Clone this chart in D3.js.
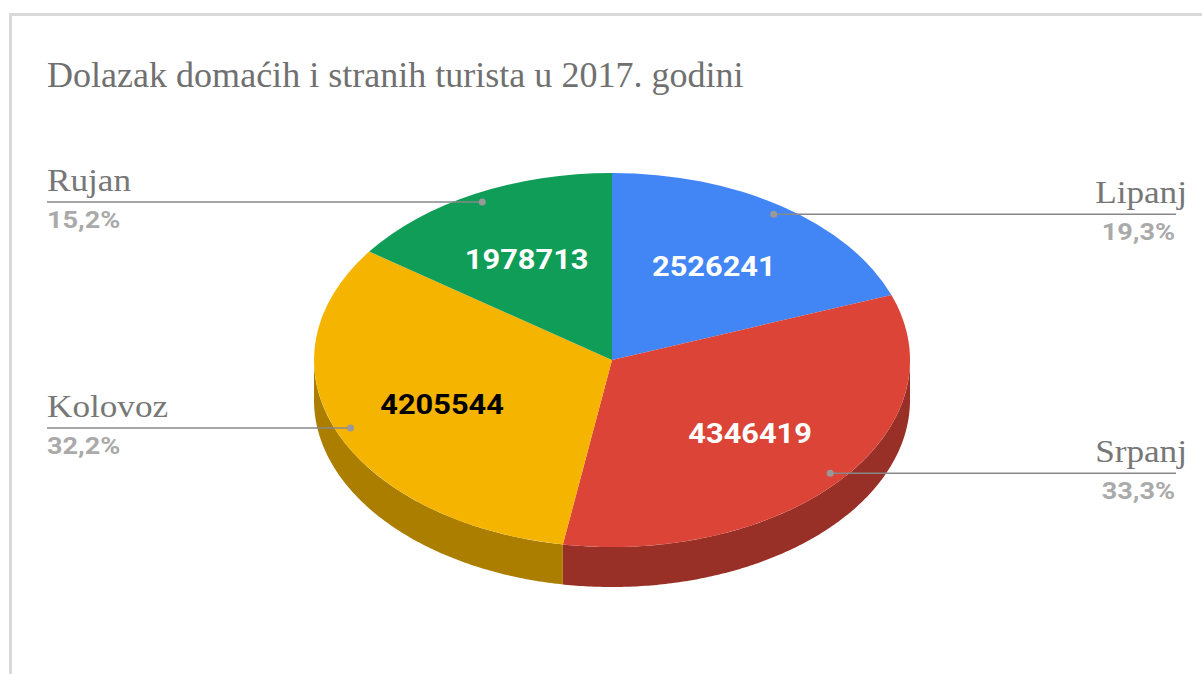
<!DOCTYPE html>
<html>
<head>
<meta charset="utf-8">
<script src="https://cdn.jsdelivr.net/npm/d3@7"></script>
<style>
  body { margin: 0; background: #fff; }
</style>
</head>
<body>
<div id="chart"></div>
<script>
// Chart data
var months = ["Lipanj", "Srpanj", "Kolovoz", "Rujan"];
var arrivals = [2526241, 4346419, 4205544, 1978713];
var sliceColors = ["#4285f4", "#db4437", "#f4b400", "#0f9d58"];
var valueTextColors = ["#ffffff", "#ffffff", "#000000", "#ffffff"];
var chartTitle = "Dolazak domaćih i stranih turista u 2017. godini";

// Chart parameters
var properties = {
    width: 1202,
    height: 674,
    cx: 612,
    cy: 360,
    rx: 298,
    ry: 187,
    depth: 40
};

var svg = d3.select("#chart")
    .append("svg")
    .attr("width", properties.width)
    .attr("height", properties.height);

// Frame border (cut off at right and bottom)
svg.append("rect")
    .attr("x", 10.5)
    .attr("y", 14.5)
    .attr("width", 1400)
    .attr("height", 900)
    .attr("fill", "none")
    .attr("stroke", "#d9d9d9")
    .attr("stroke-width", 3);

// Title
svg.append("text")
    .attr("transform", "translate(47,87) scale(1.03,1)")
    .style("font-family", "'Liberation Serif', 'Times New Roman', serif")
    .style("font-size", "35px")
    .style("fill", "#707070")
    .text(chartTitle);

// Pie layout, clockwise from 12 o'clock
var pie = d3.pie().sort(null).value(function (d) { return d; });
var slices = pie(arrivals);
var total = d3.sum(arrivals);

var hr = d3.formatLocale({ decimal: ",", thousands: ".", grouping: [3], currency: ["", " kn"] });
var pct = hr.format(".1%");

// Point on the ellipse at angle a (radians, clockwise from top), fraction f of radius
function ellipsePoint(a, f, dy) {
    return [properties.cx + properties.rx * f * Math.sin(a),
            properties.cy - properties.ry * f * Math.cos(a) + (dy || 0)];
}

// Side walls: only the front half (90deg..270deg) is visible
var wall = svg.append("g").attr("class", "walls");
slices.forEach(function (s, i) {
    var a0 = Math.max(s.startAngle, Math.PI / 2);
    var a1 = Math.min(s.endAngle, Math.PI * 3 / 2);
    if (a0 >= a1) return;
    var steps = d3.range(a0, a1, 0.01).concat([a1]);
    var top = steps.map(function (a) { return ellipsePoint(a, 1, 0); });
    var bottom = steps.slice().reverse().map(function (a) { return ellipsePoint(a, 1, properties.depth); });
    var c = d3.rgb(sliceColors[i]);
    wall.append("path")
        .attr("d", d3.line()(top.concat(bottom)) + "Z")
        .attr("fill", d3.rgb(c.r * 0.7, c.g * 0.7, c.b * 0.7));
});

// Top faces: a circular arc squashed into an ellipse
var arc = d3.arc().innerRadius(0).outerRadius(properties.rx);
svg.append("g")
    .attr("transform", "translate(" + properties.cx + "," + properties.cy + ") scale(1," + (properties.ry / properties.rx) + ")")
    .selectAll("path")
    .data(slices)
    .enter()
    .append("path")
    .attr("d", arc)
    .attr("fill", function (d, i) { return sliceColors[i]; });

// Value labels inside the slices
svg.append("g")
    .selectAll("text")
    .data(slices)
    .enter()
    .append("text")
    .attr("transform", function (d) {
        var p = ellipsePoint((d.startAngle + d.endAngle) / 2, 0.61, 0);
        return "translate(" + (p[0] - 2) + "," + (p[1] + 10) + ") scale(1.1,1)";
    })
    .attr("text-anchor", "middle")
    .style("font-family", "Roboto, Arial, sans-serif")
    .style("font-weight", "bold")
    .style("font-size", "28px")
    .style("fill", function (d, i) { return valueTextColors[i]; })
    .text(function (d) { return String(d.value); });

// Leader lines with month names and percentages
var leaders = svg.append("g").attr("class", "leaders");
slices.forEach(function (s, i) {
    var mid = (s.startAngle + s.endAngle) / 2;
    var p = ellipsePoint(mid, 0.95, 0);
    var right = mid < Math.PI;
    var endX = right ? 1176 : 47;

    leaders.append("line")
        .attr("x1", p[0]).attr("y1", p[1])
        .attr("x2", endX).attr("y2", p[1])
        .attr("stroke", "#888")
        .attr("stroke-width", 1.5);

    leaders.append("circle")
        .attr("cx", p[0]).attr("cy", p[1])
        .attr("r", 3.5)
        .attr("fill", "#999");

    leaders.append("text")
        .attr("transform", "translate(" + (right ? 1187 : 47) + "," + (p[1] - 11) + ") scale(1.1,1)")
        .attr("text-anchor", right ? "end" : "start")
        .style("font-family", "'Liberation Serif', 'Times New Roman', serif")
        .style("font-size", "32px")
        .style("fill", "#777")
        .text(months[i]);

    leaders.append("text")
        .attr("transform", "translate(" + (right ? 1175 : 47) + "," + (p[1] + 26) + ") scale(1.13,1)")
        .attr("text-anchor", right ? "end" : "start")
        .style("font-family", "Roboto, Arial, sans-serif")
        .style("font-weight", "bold")
        .style("font-size", "24px")
        .style("fill", "#aaa")
        .text(pct(s.value / total));
});
</script>
</body>
</html>
